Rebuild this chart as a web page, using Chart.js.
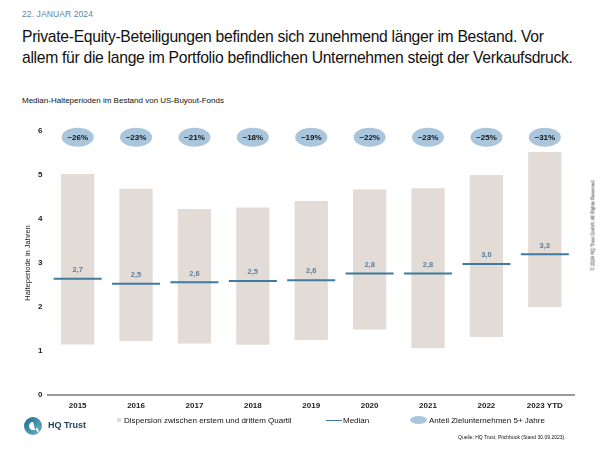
<!DOCTYPE html>
<html>
<head>
<meta charset="utf-8">
<script src="https://cdn.jsdelivr.net/npm/chart.js@4"></script>
<style>
  html, body { margin: 0; padding: 0; background: #fff; }
  body { width: 600px; height: 450px; position: relative; overflow: hidden; font-family: "Liberation Sans", Arial, sans-serif; color: #111; }
  .date { position: absolute; left: 22px; top: 9px; font-size: 8.5px; color: #5b88a4; letter-spacing: 0.1px; }
  .title { position: absolute; left: 22px; top: 26px; font-size: 15.7px; line-height: 21px; letter-spacing: -0.3px; color: #111; white-space: nowrap; }
  .sub { position: absolute; left: 22px; top: 96px; font-size: 8px; color: #111; }
  #wrap { position: absolute; left: 0; top: 105px; width: 600px; height: 316px; }
  .legend { position: absolute; top: 416px; font-size: 8px; color: #111; white-space: nowrap; }
  .copy { position: absolute; left: 593px; top: 225px; font-size: 4.5px; color: #333; transform: translate(-50%, -50%) rotate(-90deg); white-space: nowrap; }
  .src { position: absolute; left: 458px; top: 434px; font-size: 5px; color: #111; white-space: nowrap; }
  .logo { position: absolute; left: 23px; top: 416px; }
  .logotext { position: absolute; left: 48px; top: 420px; font-size: 9px; font-weight: bold; color: #1d3f5b; }
</style>
</head>
<body>
<div class="date">22. JANUAR 2024</div>
<div class="title">Private-Equity-Beteiligungen befinden sich zunehmend länger im Bestand. Vor<br>allem für die lange im Portfolio befindlichen Unternehmen steigt der Verkaufsdruck.</div>
<div class="sub">Median-Halteperioden im Bestand von US-Buyout-Fonds</div>
<div id="wrap"><canvas id="c"></canvas></div>

<svg class="logo" width="20" height="20" viewBox="0 0 20 20">
  <defs>
    <linearGradient id="g" x1="0" y1="0" x2="1" y2="1">
      <stop offset="0" stop-color="#0d6f8f"/>
      <stop offset="1" stop-color="#7ab3c8"/>
    </linearGradient>
  </defs>
  <circle cx="10" cy="10" r="9" fill="url(#g)"/>
  <path d="M10 6 a4 4 0 1 0 4 5 L17 18 L12 13 Z" fill="#fff"/>
</svg>
<div class="logotext">HQ Trust</div>

<div class="legend" style="left:117px;"><span style="display:inline-block;width:4px;height:4px;background:#e3dbd5;margin-right:3px;vertical-align:1px;"></span>Dispersion zwischen erstem und drittem Quartil</div>
<div class="legend" style="left:326px;"><span style="display:inline-block;width:16px;height:1.5px;background:#3f7aa0;margin-right:1px;vertical-align:2px;"></span>Median</div>
<div class="legend" style="left:410px;"><span style="display:inline-block;width:17px;height:8px;border-radius:50%;background:#aac6dc;margin-right:2px;vertical-align:-1px;"></span>Anteil Zielunternehmen 5+ Jahre</div>

<div class="src">Quelle: HQ Trust, Pitchbook (Stand 30.09.2023).</div>
<div class="copy">© 2024 HQ Trust GmbH. All Rights Reserved.</div>

<script>
const categories = ['2015', '2016', '2017', '2018', '2019', '2020', '2021', '2022', '2023 YTD'];
const q1 = [1.15, 1.23, 1.17, 1.14, 1.25, 1.49, 1.06, 1.32, 2.0];
const q3 = [5.02, 4.69, 4.23, 4.26, 4.41, 4.67, 4.70, 5.00, 5.52];
const median = [2.64, 2.53, 2.56, 2.59, 2.61, 2.76, 2.76, 2.98, 3.20];
const medianLabels = ['2,7', '2,5', '2,6', '2,5', '2,6', '2,8', '2,8', '3,0', '3,3'];
const share5plus = ['~26%', '~23%', '~21%', '~18%', '~19%', '~22%', '~23%', '~25%', '~31%'];
const yTicks = [0, 1, 2, 3, 4, 5, 6];

const BADGE_Y = 5.86;
const FONT = '"Liberation Sans", Arial, sans-serif';

const annotate = {
  id: 'annotate',
  afterDatasetsDraw(chart) {
    const { ctx, scales: { x, y } } = chart;
    ctx.save();
    categories.forEach((c, i) => {
      const cx = x.getPixelForValue(i);
      // badge
      const by = y.getPixelForValue(BADGE_Y);
      ctx.fillStyle = '#aac6dc';
      ctx.beginPath();
      ctx.ellipse(cx, by, 16, 9.5, 0, 0, Math.PI * 2);
      ctx.fill();
      ctx.fillStyle = '#111';
      ctx.font = 'bold 8px ' + FONT;
      ctx.textAlign = 'center';
      ctx.textBaseline = 'middle';
      ctx.fillText(share5plus[i], cx, by + 0.5);
      // median label
      const my = y.getPixelForValue(median[i]);
      ctx.fillStyle = '#5a7f9c';
      ctx.font = 'bold 7.5px ' + FONT;
      ctx.textBaseline = 'bottom';
      ctx.fillText(medianLabels[i], cx, my - 5);
    });
    ctx.restore();
  }
};

new Chart(document.getElementById('c'), {
  data: {
    labels: categories,
    datasets: [
      {
        type: 'bar',
        label: 'Dispersion zwischen erstem und drittem Quartil',
        data: q1.map((v, i) => [v, q3[i]]),
        backgroundColor: '#e3dbd5',
        barPercentage: 0.57,
        categoryPercentage: 1.0,
        order: 2
      },
      {
        type: 'line',
        label: 'Median',
        data: median,
        showLine: false,
        pointStyle: 'line',
        pointRadius: 24,
        pointHoverRadius: 24,
        borderColor: '#3f7aa0',
        borderWidth: 2,
        order: 1
      }
    ]
  },
  plugins: [annotate],
  options: {
    responsive: true,
    maintainAspectRatio: false,
    animation: false,
    layout: { padding: { top: 6, left: 23, right: 26, bottom: 0 } },
    plugins: {
      legend: { display: false },
      tooltip: { enabled: false }
    },
    scales: {
      x: {
        grid: { display: false, drawTicks: false },
        border: { display: true, color: '#9a9a9a', width: 2 },
        ticks: { color: '#222', font: { family: FONT, size: 8, weight: 'bold' }, padding: 6 }
      },
      y: {
        min: 0,
        max: 6,
        afterBuildTicks: (s) => { s.ticks = yTicks.map(v => ({ value: v })); },
        grid: { display: false, drawTicks: false },
        border: { display: false },
        ticks: { color: '#222', font: { family: FONT, size: 8, weight: 'bold' }, padding: 6 },
        title: { display: true, text: 'Halteperiode in Jahren', color: '#222', font: { family: FONT, size: 7.5 }, padding: { top: 0, bottom: 0 } }
      }
    }
  }
});
</script>
</body>
</html>
